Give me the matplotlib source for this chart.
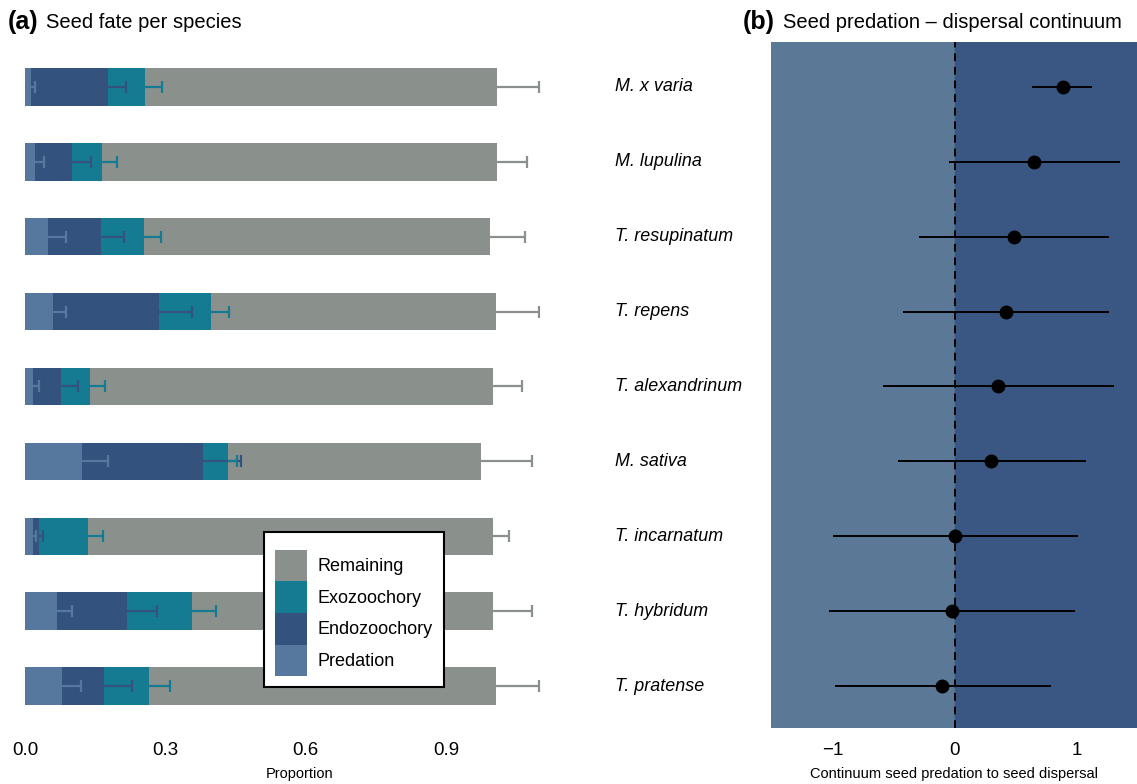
import matplotlib
matplotlib.use('Agg')
import matplotlib.pyplot as plt
import matplotlib.transforms as mtransforms
from matplotlib.patches import Patch
import numpy as np

plt.rcParams['font.family'] = ['Liberation Sans', 'DejaVu Sans']

# Données (de haut en bas)
especes = ["M. x varia", "M. lupulina", "T. resupinatum", "T. repens", "T. alexandrinum",
           "M. sativa", "T. incarnatum", "T. hybridum", "T. pratense"]

predation = [0.013, 0.021, 0.050, 0.059, 0.017, 0.122, 0.017, 0.068, 0.078]
endozoochorie = [0.164, 0.079, 0.113, 0.227, 0.059, 0.259, 0.013, 0.150, 0.091]
exozoochorie = [0.079, 0.064, 0.092, 0.111, 0.063, 0.053, 0.104, 0.138, 0.097]
restant = [0.752, 0.844, 0.739, 0.609, 0.861, 0.540, 0.866, 0.644, 0.740]

err_predation = [0.008, 0.020, 0.037, 0.028, 0.013, 0.055, 0.006, 0.032, 0.041]
err_endo = [0.039, 0.041, 0.049, 0.071, 0.038, 0.081, 0.009, 0.063, 0.060]
err_exo = [0.037, 0.032, 0.035, 0.039, 0.032, 0.019, 0.032, 0.053, 0.044]
err_restant = [0.090, 0.065, 0.074, 0.092, 0.062, 0.109, 0.034, 0.083, 0.092]

continuum = [0.885, 0.648, 0.484, 0.418, 0.352, 0.295, 0.000, -0.025, -0.107]
ci_bas = [0.63, -0.05, -0.295, -0.426, -0.59, -0.467, -1.0, -1.033, -0.984]
ci_haut = [1.12, 1.35, 1.262, 1.262, 1.303, 1.074, 1.008, 0.984, 0.787]

couleurs = {
    "Predation": "#56789f",
    "Endozoochory": "#34527e",
    "Exozoochory": "#157b92",
    "Remaining": "#8a918d",
}
fond_gauche = "#5b7896"
fond_droite = "#3a5784"

W, H = 1137, 784
fig = plt.figure(figsize=(W / 100, H / 100), dpi=100)

y = np.arange(len(especes))[::-1]

# Panneau (a)
ax1 = fig.add_axes([15 / W, 1 - 728 / H, 570 / W, 686 / H])
segments = [("Predation", predation, err_predation),
            ("Endozoochory", endozoochorie, err_endo),
            ("Exozoochory", exozoochorie, err_exo),
            ("Remaining", restant, err_restant)]
gauche = np.zeros(len(especes))
fins = []
for nom, vals, errs in segments:
    vals = np.array(vals)
    ax1.barh(y, vals, left=gauche, height=0.5, color=couleurs[nom], edgecolor="none", zorder=2)
    gauche = gauche + vals
    fins.append((nom, gauche.copy(), np.array(errs)))

# Barres d'erreur (côté supérieur uniquement)
for nom, fin, errs in fins:
    ax1.hlines(y, fin, fin + errs, color=couleurs[nom], linewidth=1.6, zorder=3)
    ax1.plot(fin + errs, y, linestyle="none", marker="|", markersize=9,
             markeredgewidth=1.6, color=couleurs[nom], zorder=3)

ax1.set_xlim(-10 / 468, 560 / 468)
ax1.set_ylim(-0.56, 8.60)
ax1.set_xticks([0.0, 0.3, 0.6, 0.9])
ax1.set_xticklabels(["0.0", "0.3", "0.6", "0.9"], fontsize=13.5)
ax1.set_yticks([])
ax1.tick_params(axis="x", length=0, pad=10)
for s in ax1.spines.values():
    s.set_visible(False)
ax1.set_xlabel("Proportion", fontsize=10.5, labelpad=6)

poignees = [Patch(facecolor=couleurs[n], edgecolor="none") for n in
            ["Remaining", "Exozoochory", "Endozoochory", "Predation"]]
leg = ax1.legend(poignees, ["Remaining", "Exozoochory", "Endozoochory", "Predation"],
                 loc="lower left", bbox_to_anchor=((264 - 15) / 570, (728 - 687) / 686),
                 borderaxespad=0, fontsize=13, handlelength=1.77, handleheight=2.32,
                 labelspacing=0, handletextpad=0.6, borderpad=0.6, fancybox=False,
                 framealpha=1, edgecolor="black", title=" ", title_fontsize=6)
leg.get_frame().set_linewidth(1.5)

# Noms des espèces
trans = mtransforms.blended_transform_factory(fig.transFigure, ax1.transData)
for yi, nom in zip(y, especes):
    fig.text(615 / W, yi, nom, transform=trans, fontsize=12.9, style="italic",
             ha="left", va="center")

# Panneau (b)
ax2 = fig.add_axes([771 / W, 1 - 728 / H, 366 / W, 686 / H])
ax2.axvspan(-1.508, 0, color=fond_gauche, zorder=0)
ax2.axvspan(0, 1.492, color=fond_droite, zorder=0)
ax2.axvline(0, color="black", linestyle=(0, (4, 3)), linewidth=1.4, zorder=1)
ax2.hlines(y, ci_bas, ci_haut, color="black", linewidth=1.4, zorder=2)
ax2.plot(continuum, y, "o", color="black", markersize=9, zorder=3)
ax2.set_xlim(-1.508, 1.492)
ax2.set_ylim(-0.56, 8.60)
ax2.set_xticks([-1, 0, 1])
ax2.set_xticklabels(["\u22121", "0", "1"], fontsize=13.5)
ax2.set_yticks([])
ax2.tick_params(axis="x", length=0, pad=10)
for s in ax2.spines.values():
    s.set_visible(False)
ax2.set_xlabel("Continuum seed predation to seed dispersal", fontsize=10.5, labelpad=6)

# Titres
fig.text(8 / W, 1 - 22 / H, "(a)", fontsize=18, fontweight="bold", va="center", ha="left")
fig.text(46 / W, 1 - 22 / H, "Seed fate per species", fontsize=14.5, va="center", ha="left")
fig.text(743 / W, 1 - 22 / H, "(b)", fontsize=18, fontweight="bold", va="center", ha="left")
fig.text(783 / W, 1 - 22 / H, "Seed predation \u2013 dispersal continuum", fontsize=14.5,
         va="center", ha="left")

fig.savefig("out.png", dpi=100)
